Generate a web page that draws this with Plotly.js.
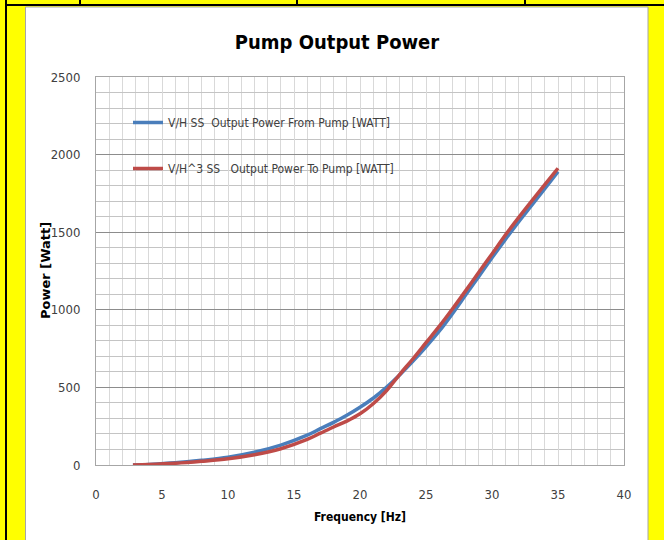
<!DOCTYPE html>
<html>
<head>
<meta charset="utf-8">
<script src="https://cdn.plot.ly/plotly-3.0.1.min.js"></script>
<style>
html,body{margin:0;padding:0;background:#ffff00;}
#chart{width:664px;height:540px;}
</style>
</head>
<body>
<div id="chart"></div>
<script>
// ---- data ----
const freqHz = [2.8, 4, 6, 8, 10, 12, 14, 16, 17, 18, 19, 20, 21, 22, 23, 24, 25, 26, 27, 28, 29, 30, 31, 32, 33, 34, 35];
const powerFromPump = [0, 4, 14, 30, 50, 82, 128, 192, 234, 275, 320, 372, 430, 500, 580, 668, 762, 862, 975, 1095, 1215, 1335, 1452, 1565, 1672, 1780, 1890];
const powerToPump   = [0, 3, 11, 24, 40, 66, 105, 165, 205, 245, 283, 330, 395, 478, 583, 683, 788, 893, 1005, 1122, 1242, 1360, 1480, 1592, 1700, 1806, 1912];
const seriesNames = ["V/H SS  Output Power From Pump [WATT]", "V/H^3 SS   Output Power To Pump [WATT]"];
const xTickVals = [0, 5, 10, 15, 20, 25, 30, 35, 40];
const yTickVals = [0, 500, 1000, 1500, 2000, 2500];

// plot area in pixels: left 96, right 624, top 77, bottom 465
const L = 96, R = 624, T = 77, B = 465;
const px = v => (v - L) / (R - L);
const py = v => (B - v) / (B - T);

const NARROW = "DejaVu Sans Condensed, Roboto, sans-serif";

const traces = [
  {x: freqHz, y: powerFromPump, name: seriesNames[0], mode: "lines", legendgroup: "a",
   line: {color: "#4a7ebb", width: 3.5, shape: "spline", smoothing: 1}},
  {x: freqHz, y: powerToPump, name: seriesNames[1], mode: "lines", legendgroup: "b",
   line: {color: "#be4b48", width: 3.5, shape: "spline", smoothing: 1}}
];

const shapes = [
  {type: "rect", xref: "paper", yref: "paper", layer: "below",
   x0: px(25.5), x1: px(648), y0: py(560), y1: py(7),
   fillcolor: "#ffffff", line: {color: "#a6a6a6", width: 1}},
  {type: "line", xref: "paper", yref: "paper", layer: "below",
   x0: px(6), x1: px(6), y0: py(0), y1: py(560), line: {color: "#000", width: 2}},
  {type: "line", xref: "paper", yref: "paper", layer: "below",
   x0: px(6), x1: px(664), y0: py(5), y1: py(5), line: {color: "#000", width: 2}},
  {type: "line", xref: "paper", yref: "paper", layer: "below",
   x0: px(80), x1: px(80), y0: py(0), y1: py(5), line: {color: "#000", width: 2}},
  {type: "line", xref: "paper", yref: "paper", layer: "below",
   x0: px(297), x1: px(297), y0: py(0), y1: py(5), line: {color: "#000", width: 2}},
  {type: "line", xref: "paper", yref: "paper", layer: "below",
   x0: px(525), x1: px(525), y0: py(0), y1: py(5), line: {color: "#000", width: 2}}
];

const annotations = [
  {text: "Power [Watt]", xref: "paper", yref: "paper", x: px(45), y: 0.5,
   xanchor: "center", yanchor: "middle", textangle: -90, showarrow: false,
   font: {family: "DejaVu Sans, sans-serif", size: 13, color: "#000000", weight: "bold"}}
];

const layout = {
  width: 664, height: 540,
  margin: {l: L, r: 664 - R, t: T, b: 540 - B, pad: 0},
  paper_bgcolor: "#ffff00",
  plot_bgcolor: "#ffffff",
  showlegend: true,
  title: {text: "Pump Output Power", x: 337 / 664, xref: "container", xanchor: "center",
          y: 1 - 42 / 540, yanchor: "middle",
          font: {family: NARROW, size: 20, color: "#000000", weight: "bold"}},
  xaxis: {
    range: [0, 40], tickvals: xTickVals, ticktext: xTickVals.map(String),
    showgrid: true, gridcolor: "#d9d9d9", gridwidth: 1,
    minor: {dtick: 1, showgrid: true, gridcolor: "#d9d9d9", gridwidth: 1},
    zeroline: false, showline: true, linecolor: "#a6a6a6", linewidth: 1, mirror: true,
    ticks: "outside", ticklen: 17, tickcolor: "rgba(0,0,0,0)",
    tickfont: {family: NARROW, size: 13, color: "#404040"},
    title: {text: "Frequency [Hz]", standoff: 12,
            font: {family: NARROW, size: 12, color: "#000000", weight: "bold"}}
  },
  yaxis: {
    range: [0, 2500], tickvals: yTickVals, ticktext: yTickVals.map(String),
    showgrid: true, gridcolor: "#8c8c8c", gridwidth: 1,
    minor: {dtick: 100, showgrid: true, gridcolor: "#c4c4c4", gridwidth: 1},
    zeroline: false, showline: true, linecolor: "#a6a6a6", linewidth: 1, mirror: true,
    ticks: "outside", ticklen: 12, tickcolor: "rgba(0,0,0,0)",
    tickfont: {family: NARROW, size: 13, color: "#404040"}
  },
  legend: {
    x: px(128), y: py(108), xanchor: "left", yanchor: "top",
    bgcolor: "rgba(0,0,0,0)", borderwidth: 0,
    traceorder: "grouped", tracegroupgap: 27,
    font: {family: NARROW, size: 12, color: "#404040"},
    itemwidth: 30
  },
  annotations: annotations,
  shapes: shapes
};

Plotly.newPlot("chart", traces, layout, {displayModeBar: false, staticPlot: true});
</script>
</body>
</html>
